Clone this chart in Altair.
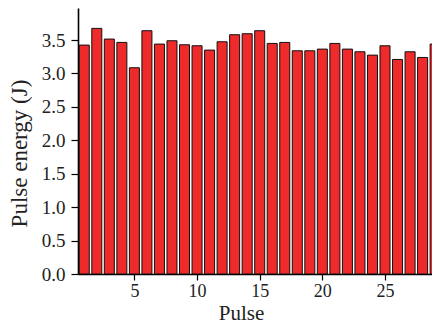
import altair as alt
import pandas as pd

pulses = list(range(1, 30))
energy = [3.425, 3.675, 3.515, 3.465, 3.086, 3.64, 3.44, 3.49, 3.43, 3.415,
          3.35, 3.475, 3.58, 3.595, 3.64, 3.45, 3.465, 3.34, 3.34, 3.365,
          3.45, 3.365, 3.325, 3.275, 3.415, 3.21, 3.325, 3.24, 3.44]

df = pd.DataFrame({"pulse": pulses, "energy": energy})

FONT = "Liberation Serif"

chart = alt.Chart(df).transform_calculate(
    x0="datum.pulse - 0.4", x1="datum.pulse + 0.4"
).mark_bar(color="#ee2a2a", stroke="#111", strokeWidth=1, clip=True).encode(
    x=alt.X("x0:Q", scale=alt.Scale(domain=[0.5, 28.75], nice=False, zero=False),
            axis=alt.Axis(title="Pulse", values=[5, 10, 15, 20, 25], grid=False,
                          tickSize=6, labelPadding=2, labelFontSize=18,
                          titleFontSize=21, titleY=45, titleX=163,
                          titleAlign="center", titleBaseline="alphabetic")),
    x2="x1:Q",
    y=alt.Y("energy:Q", scale=alt.Scale(domain=[0, 3.98], nice=False),
            axis=alt.Axis(title="Pulse energy (J)", values=[0, 0.5, 1, 1.5, 2, 2.5, 3, 3.5],
                          format=".1f", grid=False, tickSize=7, labelPadding=6,
                          labelFontSize=19, titleFontSize=23,
                          titleX=-47, titleY=145, titleBaseline="bottom",
                          titleAngle=270, titleAlign="center")),
    y2=alt.datum(0),
).properties(
    width=354, height=266,
    autosize=alt.AutoSizeParams(type="none"),
    padding={"left": 70, "top": 0, "right": 0, "bottom": 49},
).configure_axis(
    labelFont=FONT, titleFont=FONT,
    titleFontWeight="normal", labelColor="#222", titleColor="#222",
    domainColor="#000", tickColor="#000", domainWidth=1.6, tickWidth=1.2,
).configure_view(stroke=None)

chart.save("out.html", embed_options={"renderer": "svg", "actions": False})
